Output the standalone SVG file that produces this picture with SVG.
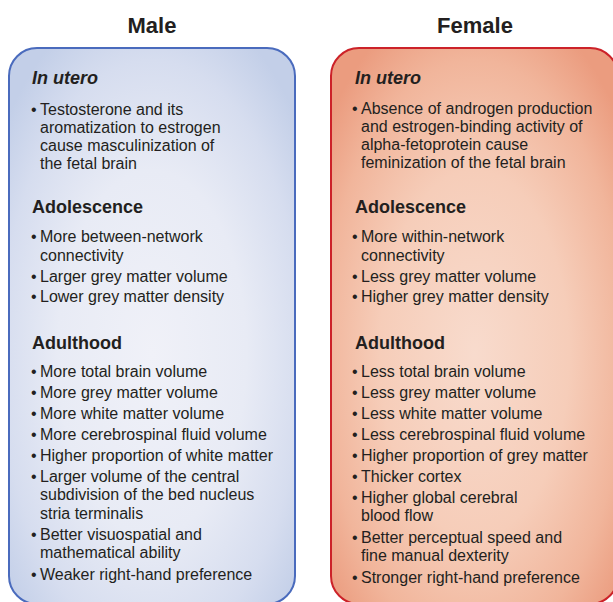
<svg xmlns="http://www.w3.org/2000/svg" width="613" height="602" viewBox="0 0 613 602">
<defs>
<radialGradient id="gm" cx="0.5" cy="0.55" r="0.66">
<stop offset="0" stop-color="#f0f1f8"/>
<stop offset="0.5" stop-color="#e8ebf5"/>
<stop offset="0.8" stop-color="#d6ddef"/>
<stop offset="1" stop-color="#c3cfe8"/>
</radialGradient>
<radialGradient id="gf" cx="0.5" cy="0.55" r="0.66">
<stop offset="0" stop-color="#f8dbcd"/>
<stop offset="0.5" stop-color="#f6cdb9"/>
<stop offset="0.8" stop-color="#f1b59b"/>
<stop offset="1" stop-color="#eb9c7f"/>
</radialGradient>
<style>
text{font-family:"Liberation Sans",Arial,sans-serif;fill:#231f20}
.t{font-size:22px;font-weight:bold;text-anchor:middle}
.h{font-size:18px;font-weight:bold}
.hi{font-size:18px;font-weight:bold;font-style:italic}
.b{font-size:16px}
</style>
</defs>
<g id="title-male"><text class="t" x="152" y="33">Male</text></g>
<g id="title-female"><text class="t" x="475" y="33">Female</text></g>
<g id="male">
<rect x="9" y="48" width="286" height="556" rx="28" fill="url(#gm)" stroke="#4a6bbd" stroke-width="2"/>
<text class="hi" x="32" y="84">In utero</text>
<text class="b" x="31" y="115">•</text>
<text class="b" x="40" y="115">Testosterone and its</text>
<text class="b" x="40" y="133">aromatization to estrogen</text>
<text class="b" x="40" y="151">cause masculinization of</text>
<text class="b" x="40" y="169">the fetal brain</text>
<text class="h" x="32" y="213">Adolescence</text>
<text class="b" x="31" y="242">•</text>
<text class="b" x="40" y="242">More between-network</text>
<text class="b" x="40" y="261">connectivity</text>
<text class="b" x="31" y="282">•</text>
<text class="b" x="40" y="282">Larger grey matter volume</text>
<text class="b" x="31" y="302">•</text>
<text class="b" x="40" y="302">Lower grey matter density</text>
<text class="h" x="32" y="349">Adulthood</text>
<text class="b" x="31" y="377">•</text>
<text class="b" x="40" y="377">More total brain volume</text>
<text class="b" x="31" y="398">•</text>
<text class="b" x="40" y="398">More grey matter volume</text>
<text class="b" x="31" y="419">•</text>
<text class="b" x="40" y="419">More white matter volume</text>
<text class="b" x="31" y="440">•</text>
<text class="b" x="40" y="440">More cerebrospinal fluid volume</text>
<text class="b" x="31" y="461">•</text>
<text class="b" x="40" y="461">Higher proportion of white matter</text>
<text class="b" x="31" y="482">•</text>
<text class="b" x="40" y="482">Larger volume of the central</text>
<text class="b" x="40" y="500">subdivision of the bed nucleus</text>
<text class="b" x="40" y="519">stria terminalis</text>
<text class="b" x="31" y="540">•</text>
<text class="b" x="40" y="540">Better visuospatial and</text>
<text class="b" x="40" y="558">mathematical ability</text>
<text class="b" x="31" y="580">•</text>
<text class="b" x="40" y="580">Weaker right-hand preference</text>
</g>
<g id="female">
<rect x="331" y="48" width="287" height="556" rx="28" fill="url(#gf)" stroke="#cc2229" stroke-width="2"/>
<text class="hi" x="355" y="84">In utero</text>
<text class="b" x="352" y="114">•</text>
<text class="b" x="361" y="114">Absence of androgen production</text>
<text class="b" x="361" y="132">and estrogen-binding activity of</text>
<text class="b" x="361" y="150">alpha-fetoprotein cause</text>
<text class="b" x="361" y="168">feminization of the fetal brain</text>
<text class="h" x="355" y="213">Adolescence</text>
<text class="b" x="352" y="242">•</text>
<text class="b" x="361" y="242">More within-network</text>
<text class="b" x="361" y="261">connectivity</text>
<text class="b" x="352" y="282">•</text>
<text class="b" x="361" y="282">Less grey matter volume</text>
<text class="b" x="352" y="302">•</text>
<text class="b" x="361" y="302">Higher grey matter density</text>
<text class="h" x="355" y="349">Adulthood</text>
<text class="b" x="352" y="377">•</text>
<text class="b" x="361" y="377">Less total brain volume</text>
<text class="b" x="352" y="398">•</text>
<text class="b" x="361" y="398">Less grey matter volume</text>
<text class="b" x="352" y="419">•</text>
<text class="b" x="361" y="419">Less white matter volume</text>
<text class="b" x="352" y="440">•</text>
<text class="b" x="361" y="440">Less cerebrospinal fluid volume</text>
<text class="b" x="352" y="461">•</text>
<text class="b" x="361" y="461">Higher proportion of grey matter</text>
<text class="b" x="352" y="482">•</text>
<text class="b" x="361" y="482">Thicker cortex</text>
<text class="b" x="352" y="503">•</text>
<text class="b" x="361" y="503">Higher global cerebral</text>
<text class="b" x="361" y="521">blood flow</text>
<text class="b" x="352" y="543">•</text>
<text class="b" x="361" y="543">Better perceptual speed and</text>
<text class="b" x="361" y="561">fine manual dexterity</text>
<text class="b" x="352" y="583">•</text>
<text class="b" x="361" y="583">Stronger right-hand preference</text>
</g>
</svg>
